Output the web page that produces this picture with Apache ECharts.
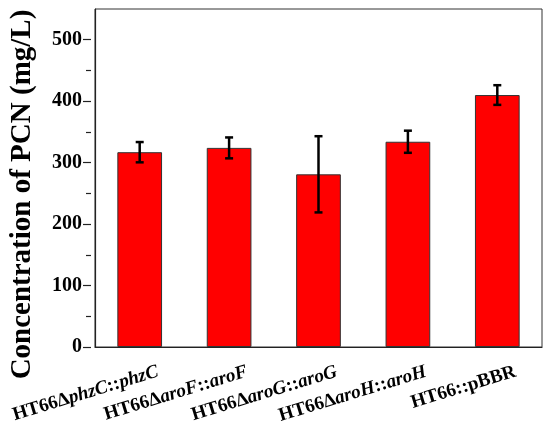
<!DOCTYPE html>
<html><head><meta charset="utf-8">
<script src="https://cdn.jsdelivr.net/npm/echarts@6/dist/echarts.min.js"></script>
<style>html,body{margin:0;padding:0;background:#fff}#c{width:550px;height:429px}</style>
</head><body><div id="c"></div>
<script>
const categories = ['HT66ΔphzC::phzC', 'HT66ΔaroF::aroF', 'HT66ΔaroG::aroG', 'HT66ΔaroH::aroH', 'HT66::pBBR'];
const values = [317, 324, 281, 334, 410];
const errors = [16.5, 17, 62, 18, 16];
const yMin = 0, yMax = 550, yStep = 100;

const chart = echarts.init(document.getElementById('c'), null, {renderer: 'canvas'});
const serif = '"Liberation Serif", "Times New Roman", serif';
const G = {left: 91, right: 8, top: 9, bottom: 82};
const plotH = 429 - G.top - G.bottom;
const grid2Top = G.top + plotH * (yMax - 500) / (yMax - yMin);

function fmtLabel(s) {
  return s.replace(/(phzC|aro[FGH])/g, '{i|$1}');
}

chart.setOption({
  animation: false,
  backgroundColor: '#fff',
  grid: [
    {left: G.left, right: G.right, top: G.top, bottom: G.bottom, show: true, borderColor: '#333', borderWidth: 1},
    {left: G.left, right: G.right, top: grid2Top, bottom: G.bottom}
  ],
  xAxis: [
    {type: 'category', data: categories, gridIndex: 0,
     axisLine: {lineStyle: {color: '#222', width: 1.2}},
     axisTick: {show: false},
     axisLabel: {rotate: 17, margin: 30, interval: 0, color: '#000', fontFamily: serif, fontWeight: 'bold', fontSize: 19,
       padding: [0, -19, 0, 0],
       formatter: fmtLabel,
       rich: {i: {fontStyle: 'italic', fontWeight: 'bold', fontFamily: serif, fontSize: 19, color: '#000'}}}},
    {type: 'category', data: categories, gridIndex: 1, show: false}
  ],
  yAxis: [
    {type: 'value', gridIndex: 0, min: yMin, max: yMax, interval: yStep,
     name: 'Concentration of PCN (mg/L)', nameLocation: 'middle', nameGap: 58,
     nameTextStyle: {fontFamily: serif, fontWeight: 'bold', fontSize: 29, color: '#000', padding: [0, 33, 0, 0]},
     axisLine: {show: true, lineStyle: {color: '#222', width: 1.2}},
     axisTick: {show: false},
     splitLine: {show: false},
     axisLabel: {showMaxLabel: false, margin: 13, color: '#000', fontFamily: serif, fontWeight: 'bold', fontSize: 20}},
    {type: 'value', gridIndex: 1, min: 0, max: 500, interval: yStep,
     axisLine: {show: false},
     axisTick: {show: true, inside: false, length: 8, lineStyle: {color: '#222', width: 1.2}},
     minorTick: {show: true, splitNumber: 2, length: 5, lineStyle: {color: '#222', width: 1.2}},
     axisLabel: {show: false}, splitLine: {show: false}, minorSplitLine: {show: false}}
  ],
  series: [
    {type: 'bar', data: values, barWidth: '50%', xAxisIndex: 0, yAxisIndex: 0,
     itemStyle: {color: '#ff0000', borderColor: '#333', borderWidth: 1}},
    {type: 'custom', xAxisIndex: 0, yAxisIndex: 0, z: 10,
     data: values.map((v, i) => [i, v - errors[i], v + errors[i]]),
     renderItem: function (params, api) {
       const lo = api.coord([api.value(0), api.value(1)]);
       const hi = api.coord([api.value(0), api.value(2)]);
       const w = 4;
       const st = {stroke: '#000', lineWidth: 2.5};
       return {type: 'group', children: [
         {type: 'line', shape: {x1: hi[0], y1: hi[1], x2: lo[0], y2: lo[1]}, style: st},
         {type: 'line', shape: {x1: hi[0] - w, y1: hi[1], x2: hi[0] + w, y2: hi[1]}, style: st},
         {type: 'line', shape: {x1: lo[0] - w, y1: lo[1], x2: lo[0] + w, y2: lo[1]}, style: st}
       ]};
     }}
  ]
});
</script></body></html>
